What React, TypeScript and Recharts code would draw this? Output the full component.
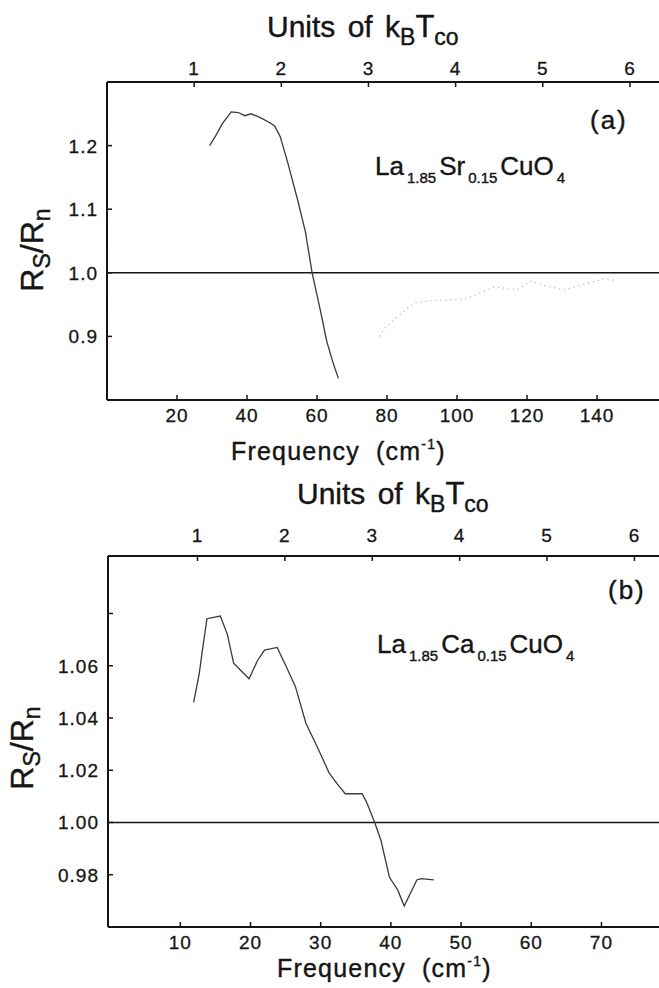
import { Line, LineChart, ReferenceLine, XAxis, YAxis } from "recharts";

// R_s/R_n against frequency for two cuprates, with k_B T_co units on the top axis.

const FONT = "'Liberation Sans', Arial, sans-serif";

// (a) La1.85Sr0.15CuO4
const FREQ_A = [29.3, 31, 33, 35.5, 37.5, 39.4, 41.1, 43, 44.5, 46.5, 47.9, 49.5, 51.6, 54.4, 56.7, 58.6, 60.8, 62.8, 64.5, 66.1];
const RATIO_A = [1.2, 1.215, 1.235, 1.253, 1.252, 1.247, 1.25, 1.246, 1.242, 1.236, 1.231, 1.214, 1.174, 1.116, 1.064, 1.0, 0.945, 0.892, 0.86, 0.834];
const TAIL_FREQ_A = [77.8, 79, 83, 87.6, 92, 97, 103, 110.7, 117, 121.4, 124.8, 131, 135, 141.7, 145];
const TAIL_RATIO_A = [0.9, 0.911, 0.931, 0.952, 0.956, 0.957, 0.96, 0.978, 0.973, 0.987, 0.98, 0.973, 0.98, 0.99, 0.988];
const X_TICKS_A = [20, 40, 60, 80, 100, 120, 140];
const Y_TICKS_A = [0.9, 1.0, 1.1, 1.2];
const KT_A = 24.9; // cm^-1 per k_B T_co

// (b) La1.85Ca0.15CuO4
const FREQ_B = [11.9, 12.7, 13.1, 13.8, 15.7, 16.7, 17.6, 19.8, 21.0, 22.0, 23.8, 25.2, 26.4, 27.9, 29.5, 31.2, 32.3, 33.5, 35.9, 36.5, 37.7, 38.6, 39.8, 41.0, 41.9, 43.7, 44.3, 46.1];
const RATIO_B = [1.046, 1.057, 1.065, 1.078, 1.079, 1.072, 1.061, 1.055, 1.062, 1.066, 1.067, 1.059, 1.052, 1.038, 1.029, 1.019, 1.015, 1.011, 1.011, 1.008, 1.0, 0.993, 0.979, 0.974, 0.968, 0.978, 0.9785, 0.978];
const X_TICKS_B = [10, 20, 30, 40, 50, 60, 70];
const Y_TICKS_B = [0.98, 1.0, 1.02, 1.04, 1.06, 1.08];
const KT_B = 12.45;

const UNIT_TICKS = [1, 2, 3, 4, 5, 6];

const toRows = (xs: number[], ys: number[]) => xs.map((f, i) => ({ f, r: ys[i] }));

const INK = "#151515";
const tickText = { fontFamily: FONT, fontSize: 19, letterSpacing: 1, fill: INK, stroke: INK, strokeWidth: 0.3 };
const AXIS_H = 30;
const AXIS_W = 40;

function BottomTick(props: any) {
  const { x, y, payload } = props;
  return (
    <g>
      <line x1={x} y1={y} x2={x} y2={y - 5} stroke={INK} strokeWidth={1.5} />
      <text x={x} y={y + 22} textAnchor="middle" {...tickText}>{payload.value}</text>
    </g>
  );
}

function makeTopTick(kt: number, gap: number) {
  return (props: any) => {
    const { x, y, payload } = props;
    return (
      <g>
        <line x1={x} y1={y} x2={x} y2={y + 5} stroke={INK} strokeWidth={1.5} />
        <text x={x} y={y - gap} textAnchor="middle" {...tickText}>{Math.round(payload.value / kt)}</text>
      </g>
    );
  };
}

function makeLeftTick(digits: number, hidden: number[]) {
  return (props: any) => {
    const { x, y, payload } = props;
    const v = payload.value as number;
    return (
      <g>
        <line x1={x} y1={y} x2={x + 5} y2={y} stroke={INK} strokeWidth={1.5} />
        {hidden.includes(v) ? null : (
          <text x={x - 9} y={y + 7} textAnchor="end" {...tickText}>{v.toFixed(digits)}</text>
        )}
      </g>
    );
  };
}

const axisLine = { stroke: INK, strokeWidth: 2 };

function Panel({
  rows, tail, xDomain, yDomain, xTicks, yTicks, kt, digits, hidden, topGap, plot, height, top,
}: any) {
  // plot = pixel box of the plotting area inside this chart
  const margin = {
    top: plot.top - AXIS_H,
    right: 0,
    bottom: height - plot.bottom - AXIS_H,
    left: plot.left - AXIS_W,
  };
  return (
    <div style={{ position: "absolute", left: 0, top, width: 659, height }}>
      <LineChart width={659} height={height} margin={margin}>
        <XAxis xAxisId="bottom" type="number" dataKey="f" domain={xDomain} ticks={xTicks} allowDataOverflow
          height={AXIS_H} axisLine={axisLine} tickLine={false} tickSize={0} tickMargin={0} tick={BottomTick}
          interval={0} />
        <XAxis xAxisId="top" orientation="top" type="number" dataKey="f" domain={xDomain} allowDataOverflow
          ticks={UNIT_TICKS.map((u) => u * kt)} height={AXIS_H} axisLine={axisLine} tickLine={false}
          tickSize={0} tickMargin={0} tick={makeTopTick(kt, topGap)} interval={0} />
        <YAxis type="number" domain={yDomain} ticks={yTicks} allowDataOverflow width={AXIS_W} axisLine={axisLine}
          tickLine={false} tickSize={0} tickMargin={0} tick={makeLeftTick(digits, hidden)} interval={0} />
        <ReferenceLine xAxisId="bottom" y={1} stroke={INK} strokeWidth={1.6} />
        <Line xAxisId="bottom" data={rows} dataKey="r" type="linear" stroke="#3a3a3a" strokeWidth={1.3} dot={false}
          isAnimationActive={false} />
        {tail ? (
          <Line xAxisId="bottom" data={tail} dataKey="r" type="linear" stroke="#a8a8a8" strokeWidth={1.2}
            strokeDasharray="1 4" dot={false} isAnimationActive={false} />
        ) : null}
      </LineChart>
    </div>
  );
}

const titleInk = { fill: INK, stroke: INK, strokeWidth: 0.4 };

function UnitsTitle({ x, y }: { x: number; y: number }) {
  return (
    <text x={x} y={y} fontFamily={FONT} fontSize={30} wordSpacing={4} {...titleInk}>
      Units of k
      <tspan fontSize={23} dy={8}>B</tspan>
      <tspan fontSize={31} dy={-8}>T</tspan>
      <tspan fontSize={23} dy={8}>co</tspan>
    </text>
  );
}

function FreqTitle({ x, y }: { x: number; y: number }) {
  return (
    <text x={x} y={y} fontFamily={FONT} fontSize={25} letterSpacing={1.2} wordSpacing={8} {...titleInk}>
      Frequency (cm
      <tspan fontSize={14} dy={-11}>-1</tspan>
      <tspan dy={11}>)</tspan>
    </text>
  );
}

function RatioTitle({ x, y }: { x: number; y: number }) {
  return (
    <g transform={`translate(${x},${y}) rotate(-90)`}>
      <text x={0} y={0} textAnchor="middle" fontFamily={FONT} fontSize={32} {...titleInk}>
        R<tspan fontSize={23} dy={7}>S</tspan>
        <tspan dy={-7}>/R</tspan>
        <tspan fontSize={23} dy={7}>n</tspan>
      </text>
    </g>
  );
}

function Formula({ x, y, dopant }: { x: number; y: number; dopant: string }) {
  return (
    <text x={x} y={y} fontFamily={FONT} fontSize={26} {...titleInk}>
      La<tspan fontSize={15} dx={3} dy={8}>1.85</tspan>
      <tspan dx={3} dy={-8}>{dopant}</tspan>
      <tspan fontSize={15} dx={3} dy={8}>0.15</tspan>
      <tspan dx={3} dy={-8}>CuO</tspan>
      <tspan fontSize={15} dx={3} dy={8}>4</tspan>
    </text>
  );
}

export default function App() {
  return (
    <div style={{ position: "absolute", left: 0, top: 0, width: 659, height: 988, background: "#fff", overflow: "hidden" }}>
      <Panel
        rows={toRows(FREQ_A, RATIO_A)}
        tail={toRows(TAIL_FREQ_A, TAIL_RATIO_A)}
        xDomain={[0, 157.7]}
        yDomain={[0.8, 1.3]}
        xTicks={X_TICKS_A}
        yTicks={Y_TICKS_A}
        kt={KT_A}
        digits={1}
        hidden={[]}
        topGap={7}
        plot={{ top: 82, bottom: 400, left: 107 }}
        height={470}
        top={0}
      />
      <Panel
        rows={toRows(FREQ_B, RATIO_B)}
        tail={null}
        xDomain={[-0.3, 78.2]}
        yDomain={[0.96, 1.102]}
        xTicks={X_TICKS_B}
        yTicks={Y_TICKS_B}
        kt={KT_B}
        digits={2}
        hidden={[1.08]}
        topGap={14}
        plot={{ top: 86, bottom: 457, left: 108 }}
        height={518}
        top={470}
      />
      <svg width={659} height={988} style={{ position: "absolute", left: 0, top: 0, pointerEvents: "none" }}>
        <UnitsTitle x={267} y={37} />
        <FreqTitle x={231} y={460} />
        <RatioTitle x={43} y={250} />
        <text x={590} y={129} fontFamily={FONT} fontSize={26} letterSpacing={2} {...titleInk}>(a)</text>
        <Formula x={375} y={175} dopant="Sr" />

        <UnitsTitle x={297} y={504} />
        <FreqTitle x={277} y={977} />
        <RatioTitle x={33} y={748} />
        <text x={608} y={599} fontFamily={FONT} fontSize={26} letterSpacing={2} {...titleInk}>(b)</text>
        <Formula x={377} y={653} dopant="Ca" />
      </svg>
    </div>
  );
}
